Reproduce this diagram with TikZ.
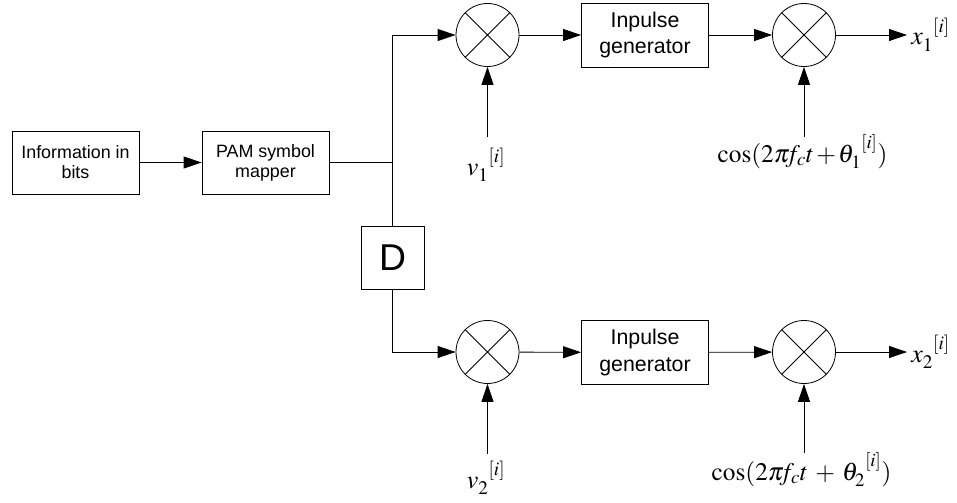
\documentclass[tikz,border=0pt]{standalone}
\usepackage{mathptmx}
\usepackage[no-math]{fontspec}
\setsansfont{Liberation Sans}
\usetikzlibrary{arrows.meta,positioning,calc}

% symbol with dropped index and raised [i]
\newcommand{\chan}[2]{{#1_{\lower2pt\hbox{$\scriptstyle #2$}}}^{\raise2.5pt\hbox{$\scriptstyle[i]$}}}

\tikzset{
  blk/.style={draw,minimum width=95.25pt,minimum height=47.25pt,align=center,
              inner sep=0pt,font=\sffamily\fontsize{13.4}{15}\selectfont},
  pulse/.style={blk,minimum height=48pt,font=\sffamily\fontsize{16}{20}\selectfont},
  dbox/.style={draw,minimum size=47.25pt,inner sep=0pt,
               font=\sffamily\fontsize{28}{30}\selectfont},
  mix/.style={circle,draw,minimum size=47.25pt,inner sep=0pt,
              path picture={\draw (path picture bounding box.north west) -- (path picture bounding box.south east)
                                  (path picture bounding box.north east) -- (path picture bounding box.south west);}},
  lbl/.style={inner sep=0pt,font=\fontsize{19.5}{22}\selectfont},
  arr/.style={-{Triangle[length=13.5pt,width=9pt]}}
}

\begin{document}
\begin{tikzpicture}[x=0.75pt,y=-0.75pt,line width=0.6pt]
  \useasboundingbox (0,0) rectangle (957,503);
  % source side
  \node[blk] (info) at (75.5,162.5) {Information in\\bits};
  \node[blk] (pam) at (265.5,162.5) {PAM symbol\\mapper};
  \node[dbox] (dly) at (392.5,257.5) {D};
  % upper branch
  \node[mix] (mixa1) at (487.5,35) {};
  \node[pulse] (pulse1) at (645,35) {Inpulse\\generator};
  \node[mix] (mixb1) at (804,35) {};
  % lower branch
  \node[mix] (mixa2) at (487.5,352) {};
  \node[pulse] (pulse2) at (645,352.5) {Inpulse\\generator};
  \node[mix] (mixb2) at (804,352) {};
  % labels
  \node[lbl,anchor=base west] (xout1) at (911,45) {$\chan{x}{1}$};
  \node[lbl,anchor=base west] (xout2) at (911,362) {$\chan{x}{2}$};
  \node[lbl,anchor=base] (vin1) at (486,175) {$\chan{v}{1}$};
  \node[lbl,anchor=base] (vin2) at (486,488) {$\chan{v}{2}$};
  \node[lbl,anchor=base,font=\fontsize{19}{22}\selectfont] (car1) at (802.5,162)
       {$\medmuskip=1.5mu\cos(2\pi\mkern-3mu f_c t+\chan{\theta}{1})$};
  \node[lbl,anchor=base,font=\fontsize{19}{22}\selectfont] (car2) at (801.5,480)
       {$\medmuskip=5mu\cos(2\pi\mkern-3mu f_c t+\chan{\theta}{2})$};
  % free ends of the input arrows
  \coordinate (vtop1) at (487.5,137);
  \coordinate (vtop2) at (487.5,454);
  \coordinate (ctop1) at (804,137);
  \coordinate (ctop2) at (804,453);

  \draw[arr] (info) -- (pam);
  \draw (pam.east) -- (pam.east -| dly.north);
  \draw[arr] (dly.north) -- (dly.north |- mixa1) -- (mixa1.west);
  \draw[arr] (dly.south) |- (mixa2.west);
  \foreach \r in {1,2}{
    \draw[arr] (mixa\r) -- (pulse\r);
    \draw[arr] (pulse\r) -- (mixb\r);
    \draw[arr] (mixb\r) -- ([xshift=-3pt]xout\r.west |- mixb\r);
    \draw[arr] (vtop\r) -- (mixa\r);
    \draw[arr] (ctop\r) -- (mixb\r);
  }
\end{tikzpicture}
\end{document}
